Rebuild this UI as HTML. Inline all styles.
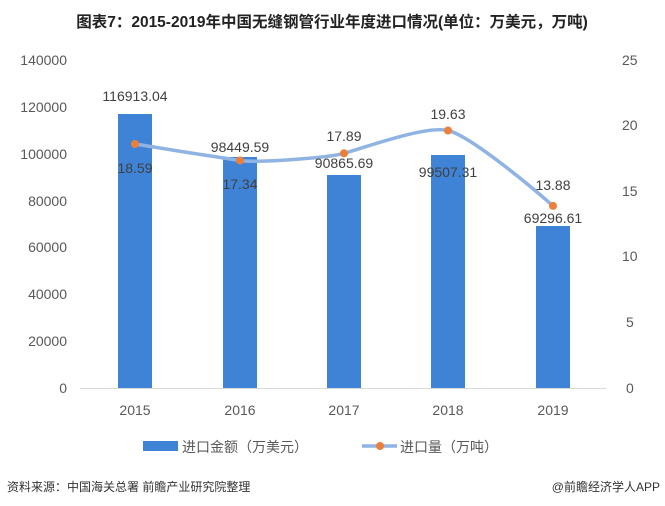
<!DOCTYPE html>
<html><head><meta charset="utf-8"><style>
body{margin:0;background:#fff;}
svg{display:block;font-family:"Liberation Sans","Noto Sans CJK SC",sans-serif;}
</style></head><body>
<svg width="665" height="506" viewBox="0 0 665 506">
<rect width="665" height="506" fill="#fff"/>
<text x="332" y="27" text-anchor="middle" font-size="15.5" font-weight="bold" fill="#222">图表7：2015-2019年中国无缝钢管行业年度进口情况(单位：万美元，万吨)</text>
<g font-size="14" fill="#595959">
<text x="67" y="65" text-anchor="end">140000</text>
<text x="67" y="112" text-anchor="end">120000</text>
<text x="67" y="159" text-anchor="end">100000</text>
<text x="67" y="206" text-anchor="end">80000</text>
<text x="67" y="252" text-anchor="end">60000</text>
<text x="67" y="299" text-anchor="end">40000</text>
<text x="67" y="346" text-anchor="end">20000</text>
<text x="67" y="393" text-anchor="end">0</text>
<text x="622" y="65">25</text>
<text x="622" y="130">20</text>
<text x="622" y="196">15</text>
<text x="622" y="261">10</text>
<text x="626" y="327">5</text>
<text x="626" y="393">0</text>
<text x="135" y="415" text-anchor="middle">2015</text>
<text x="240" y="415" text-anchor="middle">2016</text>
<text x="344" y="415" text-anchor="middle">2017</text>
<text x="448" y="415" text-anchor="middle">2018</text>
<text x="553" y="415" text-anchor="middle">2019</text>
</g>
<line x1="80" y1="388.5" x2="606" y2="388.5" stroke="#d9d9d9"/>
<g fill="#3e83d6">
<rect x="118" y="114" width="34" height="274"/>
<rect x="223" y="157" width="34" height="231"/>
<rect x="327" y="175" width="34" height="213"/>
<rect x="431" y="155" width="34" height="233"/>
<rect x="536" y="226" width="34" height="162"/>
</g>
<path d="M135,144 C152,147 222,158 240,160.5 C257,163 327,158 344,153.3 C361,149 425,125 448,130.5 C471,136 535,190 553,205.9" fill="none" stroke="#8fb4e3" stroke-width="3.5"/>
<g fill="#ec7f3a">
<circle cx="135" cy="144" r="4"/><circle cx="240" cy="160.5" r="4"/><circle cx="344" cy="153.3" r="4"/><circle cx="448" cy="130.5" r="4"/><circle cx="553" cy="205.9" r="4"/>
</g>
<g font-size="14" fill="#404040" text-anchor="middle">
<text x="135" y="101">116913.04</text>
<text x="240" y="152">98449.59</text>
<text x="344" y="168">90865.69</text>
<text x="448" y="177">99507.31</text>
<text x="553" y="223">69296.61</text>
<text x="135" y="173">18.59</text>
<text x="240" y="189">17.34</text>
<text x="344" y="141">17.89</text>
<text x="448" y="119">19.63</text>
<text x="553" y="190">13.88</text>
</g>
<rect x="143" y="441" width="35" height="10" fill="#3e83d6"/>
<text x="182" y="452" font-size="14" fill="#595959">进口金额（万美元）</text>
<line x1="362" y1="446" x2="397" y2="446" stroke="#8fb4e3" stroke-width="3.5"/>
<circle cx="380" cy="446" r="4" fill="#ec7f3a"/>
<text x="400" y="452" font-size="14" fill="#595959">进口量（万吨）</text>
<text x="7" y="491" font-size="12" fill="#333">资料来源：中国海关总署 前瞻产业研究院整理</text>
<text x="660" y="491" font-size="12" fill="#333" text-anchor="end">@前瞻经济学人APP</text>
</svg>
</body></html>
